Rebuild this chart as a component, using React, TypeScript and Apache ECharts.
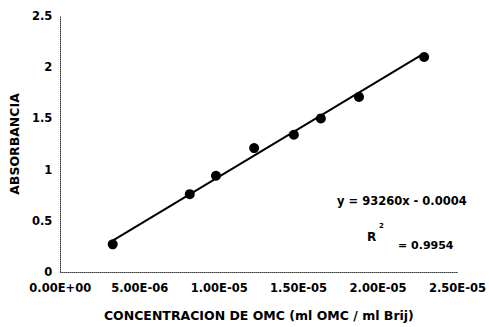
import React, { useEffect, useRef } from "react";
import * as echarts from "echarts";

// Calibration standards: OMC concentration (ml OMC / ml Brij) vs absorbance
const concentration = [3.3e-6, 8.15e-6, 9.8e-6, 1.22e-5, 1.47e-5, 1.64e-5, 1.88e-5, 2.29e-5];
const absorbance = [0.27, 0.76, 0.94, 1.21, 1.34, 1.5, 1.71, 2.1];

// Linear fit reported on the chart
const fitSlope = 93260;
const fitIntercept = -0.0004;
const fitR2 = "0.9954";

const xTickLabels = ["0.00E+00", "5.00E-06", "1.00E-05", "1.50E-05", "2.00E-05", "2.50E-05"];
const yTickLabels = ["0", "0.5", "1", "1.5", "2", "2.5"];

const FONT = "DejaVu Sans";

export default function App() {
  const ref = useRef<HTMLDivElement>(null);

  useEffect(() => {
    document.body.style.margin = "0";
    const chart = echarts.init(ref.current!, null, { renderer: "svg" });

    const xMin = Math.min(...concentration);
    const xMax = Math.max(...concentration);
    const fitLine = [
      [xMin, fitSlope * xMin + fitIntercept],
      [xMax, fitSlope * xMax + fitIntercept],
    ];

    chart.setOption({
      animation: false,
      backgroundColor: "#ffffff",
      grid: { left: 50, right: 31, top: 16, bottom: 51 },
      xAxis: {
        type: "value",
        min: 0,
        max: 2.5e-5,
        interval: 5e-6,
        name: "CONCENTRACION DE OMC (ml OMC / ml Brij)",
        nameLocation: "middle",
        nameGap: 37,
        nameTextStyle: { fontFamily: FONT, fontWeight: "bold", fontSize: 12.5, color: "#000" },
        axisLine: { show: true, lineStyle: { color: "#444", type: "dotted", width: 1 } },
        axisTick: { show: false },
        splitLine: { show: false },
        axisLabel: {
          margin: 10,
          fontFamily: FONT,
          fontWeight: "bold",
          fontSize: 11.5,
          color: "#000",
          formatter: (v: number) => xTickLabels[Math.round(v / 5e-6)] ?? "",
        },
      },
      yAxis: {
        type: "value",
        min: 0,
        max: 2.5,
        interval: 0.5,
        name: "ABSORBANCIA",
        nameLocation: "middle",
        nameRotate: 90,
        nameGap: 30,
        nameTextStyle: { fontFamily: FONT, fontWeight: "bold", fontSize: 12.5, color: "#000" },
        axisLine: { show: true, lineStyle: { color: "#333", type: "dotted", width: 1 } },
        axisTick: { show: false },
        splitLine: { show: false },
        axisLabel: {
          margin: 8,
          fontFamily: FONT,
          fontWeight: "bold",
          fontSize: 11.5,
          color: "#000",
          formatter: (v: number) => yTickLabels[Math.round(v / 0.5)] ?? "",
        },
      },
      series: [
        {
          name: "Ajuste lineal",
          type: "line",
          data: fitLine,
          symbol: "none",
          lineStyle: { color: "#000", width: 2 },
          z: 2,
        },
        {
          name: "Absorbancia",
          type: "scatter",
          data: concentration.map((c, i) => [c, absorbance[i]]),
          symbol: "circle",
          symbolSize: 10,
          itemStyle: { color: "#000", opacity: 1 },
          z: 3,
        },
      ],
      graphic: [
        {
          type: "text",
          left: 337,
          top: 195,
          style: {
            text: `y = ${fitSlope}x - ${Math.abs(fitIntercept).toFixed(4)}`,
            fontFamily: FONT,
            fontWeight: "bold",
            fontSize: 11.5,
            fill: "#000",
          },
        },
        {
          type: "text",
          left: 367,
          top: 231,
          style: { text: "R", fontFamily: FONT, fontWeight: "bold", fontSize: 12, fill: "#000" },
        },
        {
          type: "text",
          left: 379,
          top: 222,
          style: { text: "2", fontFamily: FONT, fontWeight: "bold", fontSize: 7, fill: "#000" },
        },
        {
          type: "text",
          left: 398,
          top: 240,
          style: { text: `= ${fitR2}`, fontFamily: FONT, fontWeight: "bold", fontSize: 11, fill: "#000" },
        },
      ],
    });

    return () => chart.dispose();
  }, []);

  return (
    <div
      ref={ref}
      style={{ position: "absolute", left: 0, top: 0, width: 489, height: 327, background: "#fff" }}
    />
  );
}
